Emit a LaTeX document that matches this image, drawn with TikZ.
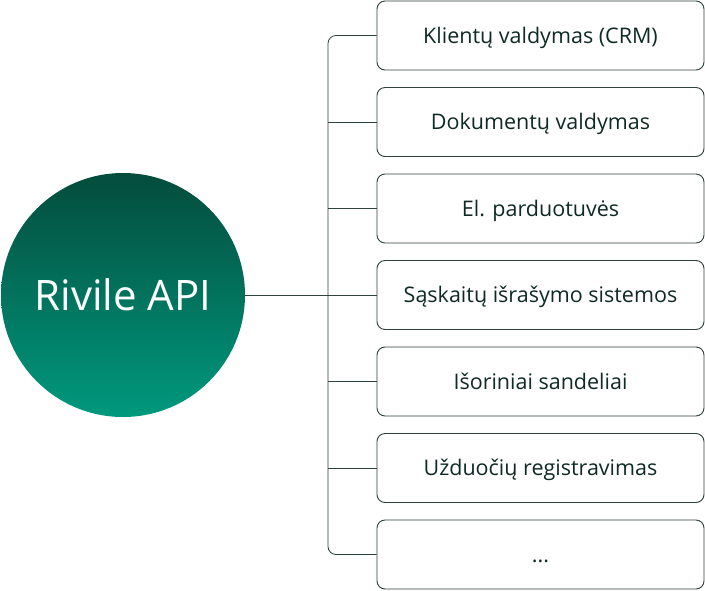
\documentclass[tikz,border=0pt]{standalone}
\usepackage{fontspec}
\setmainfont{Open Sans}
\definecolor{lineC}{HTML}{2E403C}
\definecolor{txt}{HTML}{0F2A25}
\definecolor{gTop}{HTML}{044C3C}
\definecolor{gMid}{HTML}{025E4B}
\definecolor{gBot}{HTML}{00997E}
\begin{document}
\begin{tikzpicture}[x=1pt,y=-1pt,
  box/.style={draw=lineC, line width=0.9pt, rounded corners=8pt, minimum width=327pt, minimum height=69pt, fill=white, font=\fontsize{21.5}{25}\selectfont, text=txt, inner sep=0pt, text height=19pt, text depth=3.4pt},
  conn/.style={draw=lineC, line width=0.8pt}]
\useasboundingbox (0,0) rectangle (705,590);
\node[circle, minimum size=244pt, inner sep=0pt, top color=gTop, middle color=gMid, bottom color=gBot, text=white, font=\fontsize{42}{46}\selectfont, text height=30pt, text depth=0pt] (api) at (123,295) {Rivile API};
\node[box] (b1) at (540.5,35.5) {Klientų valdymas (CRM)};
\node[box] (b2) at (540.5,122) {Dokumentų valdymas};
\node[box] (b3) at (540.5,208.5) {El. parduotuvės};
\node[box] (b4) at (540.5,295) {Sąskaitų išrašymo sistemos};
\node[box] (b5) at (540.5,381.5) {Išoriniai sandeliai};
\node[box] (b6) at (540.5,468) {Užduočių registravimas};
\node[box] (b7) at (540.5,554.5) {...};
\coordinate (spine) at (328,295);
\draw[conn] (api.east) -- (b4.west);
\draw[conn, rounded corners=8pt] (b1.west) -| (spine) |- (b7.west);
\draw[conn] (b2.west) -- (b2.west -| spine);
\draw[conn] (b3.west) -- (b3.west -| spine);
\draw[conn] (b5.west) -- (b5.west -| spine);
\draw[conn] (b6.west) -- (b6.west -| spine);
\end{tikzpicture}
\end{document}
